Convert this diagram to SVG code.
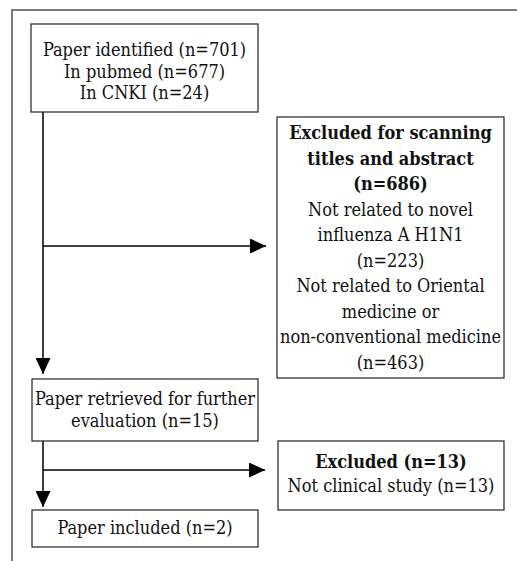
<svg xmlns="http://www.w3.org/2000/svg" width="517" height="561" viewBox="0 0 517 561">
<style>
.frame{fill:none;stroke:#7a7a7a;stroke-width:2}
.box{fill:#fff;stroke:#222;stroke-width:1.2}
.t{font-family:"DejaVu Serif Condensed","DejaVu Serif",serif;font-stretch:condensed;font-size:18px;fill:#111;text-anchor:middle}
.b{font-weight:bold}
.c{fill:none;stroke:#000;stroke-width:1.5}
</style>
<defs>
<marker id="ah" markerUnits="userSpaceOnUse" markerWidth="16" markerHeight="15" refX="16" refY="7.5" orient="auto">
<path d="M0,0 L16,7.5 L0,15 z" fill="#000"/>
</marker>
</defs>
<rect width="517" height="561" fill="#fff"/>
<path class="frame" d="M12,561 L12,10 L517,10"/>
<g id="connectors">
<line class="c" x1="43" y1="112" x2="43" y2="374" marker-end="url(#ah)"/>
<line class="c" x1="43" y1="246" x2="266" y2="246" marker-end="url(#ah)"/>
<line class="c" x1="43" y1="441" x2="43" y2="507" marker-end="url(#ah)"/>
<line class="c" x1="43" y1="470" x2="265" y2="470" marker-end="url(#ah)"/>
</g>
<g id="identified">
<rect class="box" x="31" y="24" width="227" height="88"/>
<text class="t" x="144.5" y="56">Paper identified (n=701)</text>
<text class="t" x="144.5" y="78">In pubmed (n=677)</text>
<text class="t" x="144.5" y="99">In CNKI (n=24)</text>
</g>
<g id="excluded1">
<rect class="box" x="277" y="117" width="227" height="261"/>
<text class="t b" x="390.5" y="139">Excluded for scanning</text>
<text class="t b" x="390.5" y="164.5">titles and abstract</text>
<text class="t b" x="390.5" y="190">(n=686)</text>
<text class="t" x="390.5" y="215.5">Not related to novel</text>
<text class="t" x="390.5" y="241">influenza A H1N1</text>
<text class="t" x="390.5" y="266.5">(n=223)</text>
<text class="t" x="390.5" y="292">Not related to Oriental</text>
<text class="t" x="390.5" y="317.5">medicine or</text>
<text class="t" x="390.5" y="343">non-conventional medicine</text>
<text class="t" x="390.5" y="368.5">(n=463)</text>
</g>
<g id="retrieved">
<rect class="box" x="32" y="379" width="226" height="62"/>
<text class="t" x="145" y="405">Paper retrieved for further</text>
<text class="t" x="145" y="427">evaluation (n=15)</text>
</g>
<g id="excluded2">
<rect class="box" x="278" y="441" width="226" height="69"/>
<text class="t b" x="391" y="468">Excluded (n=13)</text>
<text class="t" x="391" y="492">Not clinical study (n=13)</text>
</g>
<g id="included">
<rect class="box" x="32" y="510" width="226" height="37"/>
<text class="t" x="145" y="534">Paper included (n=2)</text>
</g>
</svg>
